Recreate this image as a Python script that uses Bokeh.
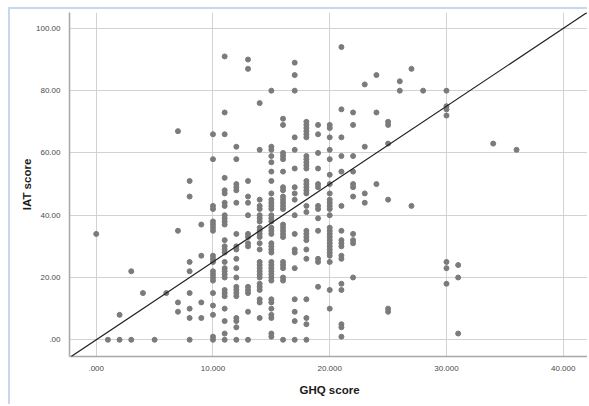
from bokeh.plotting import figure
from bokeh.models import Range1d, FixedTicker, Slope, Spacer
from bokeh.layouts import column, row
from bokeh.embed import file_html
from bokeh.resources import INLINE

# GHQ score (x) -> list of IAT scores (y) observed in each column
ghq_cols = {
    0: [34],
    1: [0],
    2: [0, 8],
    3: [0, 22],
    4: [15],
    5: [0],
    6: [15],
    7: [67, 35, 12, 9],
    8: [51, 46, 25, 22, 15, 10, 7, 0],
    9: [37, 27, 12, 7],
    10: [66, 58, 43, 42, 38, 37, 36, 35, 27, 26, 25, 22, 21, 20, 19, 15, 11, 8, 1, 0],
    11: [91, 73, 66, 52, 48, 47, 44, 43, 40, 39, 38, 37, 32, 30, 29, 28, 25, 23, 22, 21, 20, 16, 15, 14, 10, 6, 2, 0],
    12: [62, 58, 50, 49, 48, 44, 34, 30, 29, 26, 23, 20, 17, 16, 15, 14, 7, 6, 4, 0],
    13: [90, 87, 51, 46, 44, 40, 34, 33, 31, 30, 17, 16, 15, 9, 0],
    14: [76, 61, 45, 43, 42, 40, 39, 38, 36, 35, 34, 33, 31, 29, 25, 24, 23, 22, 21, 20, 18, 17, 16, 13, 12, 7],
    15: [80, 62, 61, 59, 57, 54, 51, 47, 45, 44, 43, 42, 40, 39, 38, 36, 35, 34, 31, 30, 29, 28, 25, 24, 23, 22, 21, 20, 19, 13, 12, 10, 8, 7, 2, 1],
    16: [71, 69, 60, 59, 58, 54, 49, 48, 46, 45, 44, 43, 42, 37, 36, 35, 34, 33, 25, 24, 23, 20, 19, 0],
    17: [89, 85, 80, 65, 61, 55, 49, 47, 45, 40, 34, 29, 28, 23, 13, 9, 6, 0],
    18: [70, 69, 68, 67, 66, 65, 59, 58, 57, 56, 55, 51, 50, 49, 48, 47, 43, 41, 35, 34, 33, 32, 29, 26, 13, 7, 5, 0],
    19: [69, 66, 60, 55, 50, 49, 43, 42, 39, 35, 26, 25, 17],
    20: [69, 68, 65, 61, 58, 53, 50, 47, 45, 44, 43, 42, 40, 36, 35, 34, 33, 32, 31, 30, 29, 28, 27, 25, 16, 10],
    21: [94, 74, 65, 59, 54, 43, 35, 32, 31, 30, 27, 26, 18, 16, 5, 4, 1],
    22: [73, 69, 59, 54, 50, 49, 46, 34, 32, 31, 20],
    23: [82, 62, 47, 44],
    24: [85, 73, 50],
    25: [70, 69, 63, 45, 10, 9],
    26: [83, 80],
    27: [87, 43],
    28: [80],
    30: [80, 75, 74, 72, 25, 23, 18],
    31: [24, 20, 2],
    34: [63],
    36: [61],
}

ghq = [g for g, ys in ghq_cols.items() for _ in ys]
iat = [y for g, ys in ghq_cols.items() for y in ys]

x_ticks = [0, 10, 20, 30, 40]
x_tick_labels = [".000", "10.000", "20.000", "30.000", "40.000"]
y_ticks = [0, 20, 40, 60, 80, 100]
y_tick_labels = [".00", "20.00", "40.00", "60.00", "80.00", "100.00"]

ref_slope = 2.5
ref_intercept = 0.0

p = figure(width=579, height=397, output_backend="svg", toolbar_location=None,
           x_range=Range1d(-2.29, 42.25), y_range=Range1d(-5.37, 105.1),
           min_border_left=59, min_border_right=0, min_border_top=3, min_border_bottom=50)
p.styles = {"border-left": "2px solid #c6d8ef", "border-top": "2px solid #c6d8ef"}
p.background_fill_color = "white"
p.border_fill_color = "white"
p.outline_line_color = None

p.xaxis.ticker = FixedTicker(ticks=x_ticks)
p.yaxis.ticker = FixedTicker(ticks=y_ticks)
p.xaxis.major_label_overrides = {t: l for t, l in zip(x_ticks, x_tick_labels)}
p.yaxis.major_label_overrides = {t: l for t, l in zip(y_ticks, y_tick_labels)}

for ax in (p.xaxis[0], p.yaxis[0]):
    ax.axis_line_color = "#a8a8a8"
    ax.axis_line_width = 1.5
    ax.major_tick_line_color = None
    ax.minor_tick_line_color = None
    ax.major_label_text_font = "Liberation Sans"
    ax.major_label_text_font_size = "8px"
    ax.major_label_text_color = "#4a4a4a"
    ax.axis_label_text_font = "Liberation Sans"
    ax.axis_label_text_font_size = "11.5px"
    ax.axis_label_text_font_style = "bold"
    ax.axis_label_text_color = "#1a1a1a"

p.xaxis.axis_label = "GHQ score"
p.yaxis.axis_label = "IAT score"
p.xaxis.major_label_standoff = 3
p.yaxis.major_label_standoff = 3
p.xaxis.axis_label_standoff = 10
p.yaxis.axis_label_standoff = 0

p.xgrid.grid_line_color = "#d2d2d2"
p.ygrid.grid_line_color = "#d2d2d2"
p.xgrid.grid_line_width = 1
p.ygrid.grid_line_width = 1

p.scatter(ghq, iat, size=5, color="#7b7b7b", line_color="#7b7b7b")
p.add_layout(Slope(gradient=ref_slope, y_intercept=ref_intercept, line_color="#1e1e1e", line_width=1.2))

layout = column(Spacer(height=7), row(Spacer(width=8), p))

open("out.html", "w").write(file_html(layout, INLINE))
